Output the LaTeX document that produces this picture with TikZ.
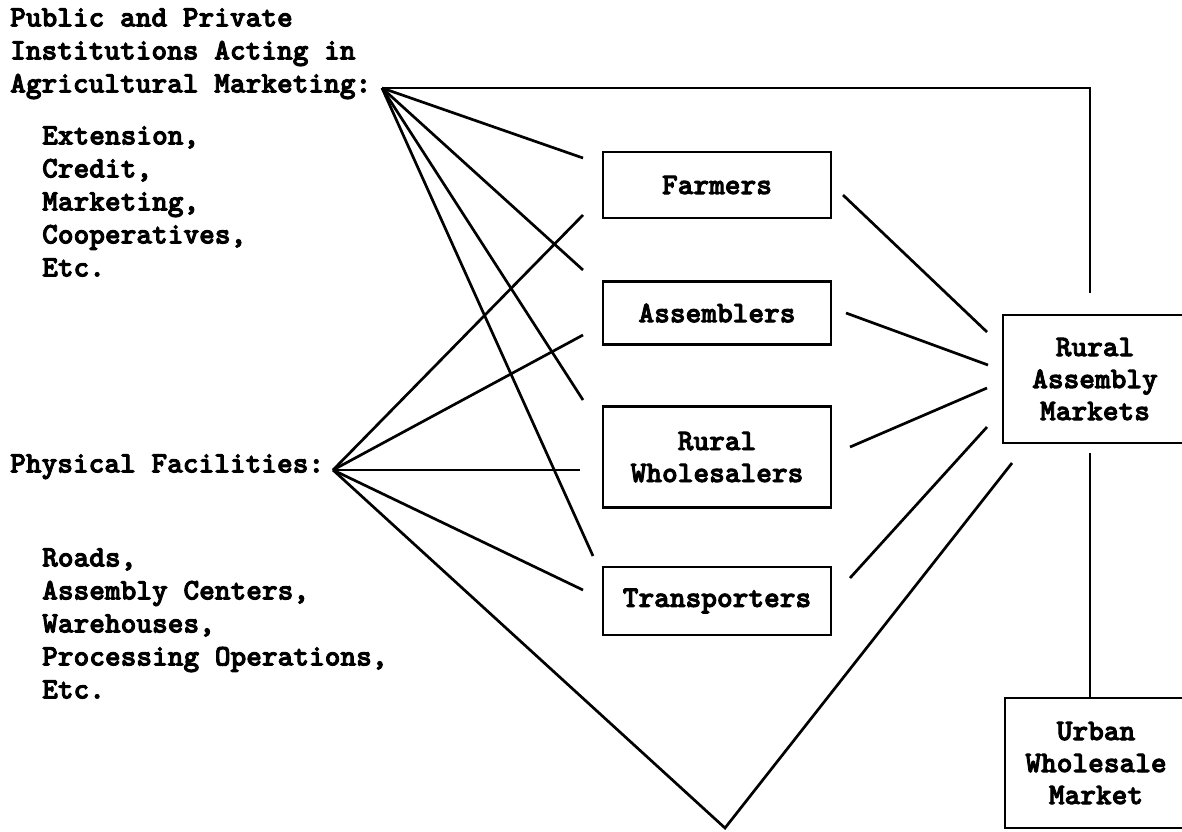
\documentclass[tikz,border=0pt]{standalone}
\usepackage{fontspec}
\newfontfamily\cour{lmmonolt10-bold.otf}[FakeBold=3]
\begin{document}
\begin{tikzpicture}[x=1pt,y=-1pt]
\tikzset{
 txt/.style={font=\cour\fontsize{29.9}{33}\selectfont, inner sep=0pt, align=left, anchor=north west},
 stagebox/.style={draw, line width=2.7pt, font=\cour\fontsize{29.9}{32}\selectfont, align=center, inner sep=0pt, minimum width=228pt},
 link/.style={line width=2.7pt, line join=miter}
}
\useasboundingbox (0,0) rectangle (1182,831);
\fill[white] (0,0) rectangle (1182,831);
% texts
\node[txt] (inst) at (10,8) {Public and Private\\Institutions Acting in\\Agricultural Marketing:};
\node[txt] (instlist) at (42,126) {Extension,\\Credit,\\Marketing,\\Cooperatives,\\Etc.};
\node[txt] (phys) at (10,454) {Physical Facilities:};
\node[txt] (physlist) at (42,548) {Roads,\\Assembly Centers,\\Warehouses,\\Processing Operations,\\Etc.};
% boxes
\node[stagebox, minimum height=66pt] (farm) at (717,185) {Farmers};
\node[stagebox, minimum height=63pt] (asm) at (717,313) {Assemblers};
\node[stagebox, minimum height=101pt] (rw) at (717,457) {Rural\\Wholesalers};
\node[stagebox, minimum height=68pt] (tr) at (717,601) {Transporters};
\node[stagebox, minimum width=184pt, minimum height=128pt] (ram) at (1095,379) {Rural\\Assembly\\Markets};
\node[stagebox, minimum width=182pt, minimum height=130pt] (uwm) at (1096,763) {Urban\\Wholesale\\Market};
% coordinates
\coordinate (h1) at (382,88);
\coordinate (h2) at (333,470);
\coordinate (corner) at (1090,88);
\coordinate (ramtop) at (1090,293);
\coordinate (rambot) at (1090,453);
\coordinate (uwmtop) at (1090,698);
\coordinate (apex) at (725,828);
\coordinate (ve) at (1012,463);
\coordinate (f1) at (583,158);
\coordinate (a1) at (583,270);
\coordinate (w1) at (583,400);
\coordinate (t1) at (593,556);
\coordinate (f2) at (583,215);
\coordinate (a2) at (583,335);
\coordinate (w2) at (580,470);
\coordinate (t2) at (583,590);
\coordinate (fr) at (843,195);
\coordinate (fe) at (987,332);
\coordinate (ar) at (846,313);
\coordinate (ae) at (988,365);
\coordinate (wr) at (850,447);
\coordinate (we) at (987,388);
\coordinate (tr2) at (850,578);
\coordinate (te) at (987,427);
% connectors
\draw[link] (h1) -- (corner) -- (ramtop);
\draw[link] (h1) -- (f1);
\draw[link] (h1) -- (a1);
\draw[link] (h1) -- (w1);
\draw[link] (h1) -- (t1);
\draw[link] (h2) -- (f2);
\draw[link] (h2) -- (a2);
\draw[link] (h2) -- (w2);
\draw[link] (h2) -- (t2);
\draw[link] (h2) -- (apex) -- (ve);
\draw[link] (fr) -- (fe);
\draw[link] (ar) -- (ae);
\draw[link] (wr) -- (we);
\draw[link] (tr2) -- (te);
\draw[link] (rambot) -- (uwmtop);
\end{tikzpicture}
\end{document}
